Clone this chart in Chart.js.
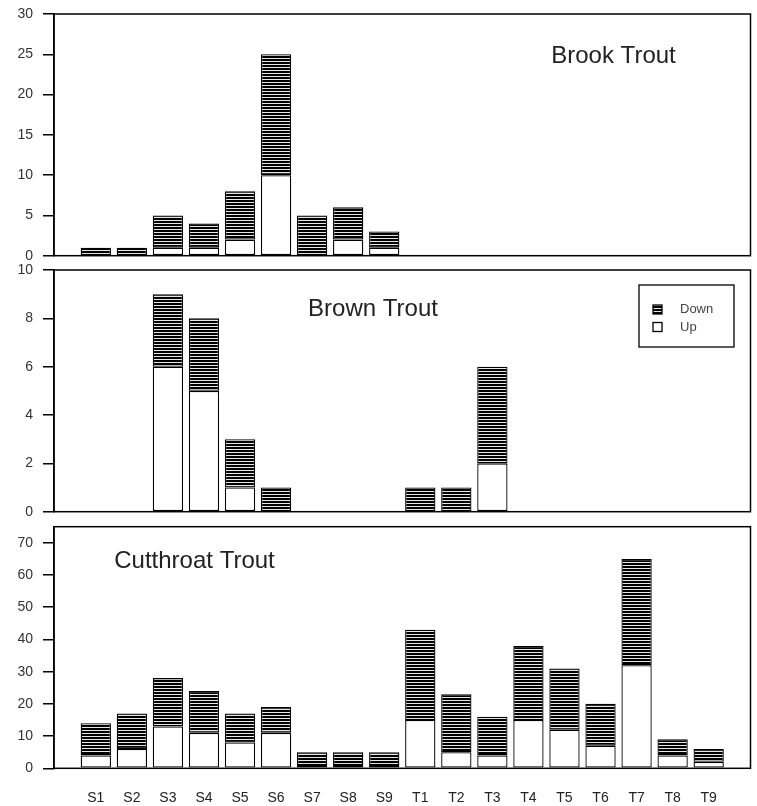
<!DOCTYPE html>
<html>
<head>
<meta charset="utf-8">
<script src="https://cdn.jsdelivr.net/npm/chart.js@4.4.0/dist/chart.umd.min.js"></script>
<style>
  body { margin: 0; background: #fff; width: 757px; height: 806px; position: relative; overflow: hidden; }
  .panel { position: absolute; left: 0; width: 757px; }
</style>
</head>
<body>
<div class="panel" style="top:-10px;height:290px"><canvas id="brook"></canvas></div>
<div class="panel" style="top:246px;height:290px"><canvas id="brown"></canvas></div>
<div class="panel" style="top:503px;height:303px"><canvas id="cutthroat"></canvas></div>
<script>
// sites along the x axis
const sites = ['S1','S2','S3','S4','S5','S6','S7','S8','S9','T1','T2','T3','T4','T5','T6','T7','T8','T9'];

// fish counts moving up / down, per site
const brookUp       = [0,0,1,1,2,10,0,2,1, 0,0,0,0,0,0,0,0,0];
const brookDown     = [1,1,4,3,6,15,5,4,2, 0,0,0,0,0,0,0,0,0];
const brownUp       = [0,0,6,5,1,0,0,0,0, 0,0,2,0,0,0,0,0,0];
const brownDown     = [0,0,3,3,2,1,0,0,0, 1,1,4,0,0,0,0,0,0];
const cutthroatUp   = [4,6,13,11,8,11,1,1,1, 15,5,4,15,12,7,32,4,2];
const cutthroatDown = [10,11,15,13,9,8,4,4,4, 28,18,12,23,19,13,33,5,4];

const FONT = '"Liberation Sans", Arial, sans-serif';

function stripes() {
  const c = document.createElement('canvas');
  c.width = 4; c.height = 3;
  const g = c.getContext('2d');
  g.fillStyle = '#e6e6e6';
  g.fillRect(0, 0, 4, 3);
  g.fillStyle = '#000';
  g.fillRect(0, 0, 4, 2);
  return g.createPattern(c, 'repeat');
}
const hatch = stripes();

function toPoints(arr) {
  return arr.map((v, i) => ({x: i, y: v}));
}

// frame, panel title and (optionally) legend; positions are relative to the chart area
const panelDecor = {
  id: 'panelDecor',
  afterDatasetsDraw(chart, args, opts) {
    const ctx = chart.ctx;
    const a = chart.chartArea;
    ctx.save();
    ctx.strokeStyle = '#000';
    ctx.lineWidth = 1.5;
    ctx.strokeRect(a.left, a.top, a.right - a.left, a.bottom - a.top);

    ctx.fillStyle = '#222';
    ctx.font = '24px ' + FONT;
    ctx.textAlign = 'center';
    ctx.textBaseline = 'middle';
    ctx.fillText(opts.title, opts.titleX, a.top + opts.titleDy);

    if (opts.legend) {
      const L = opts.legend;
      const ly = a.top + L.dy;
      ctx.lineWidth = 1.3;
      ctx.strokeRect(L.x, ly, L.w, L.h);
      const items = chart.data.datasets.slice().reverse();
      ctx.font = '13px ' + FONT;
      ctx.textAlign = 'left';
      items.forEach((ds, i) => {
        const sy = ly + 20 + i * 17.5;
        ctx.fillStyle = ds.backgroundColor;
        ctx.fillRect(L.x + 14, sy, 9, 9);
        ctx.strokeRect(L.x + 14, sy, 9, 9);
        ctx.fillStyle = '#444';
        ctx.fillText(ds.label, L.x + 41, sy + 4.5);
      });
    }
    ctx.restore();
  }
};

function makePanel(id, up, down, yMax, yStep, decor, showX, pad) {
  const xAxis = {
    type: 'linear',
    stacked: true,
    min: -1.16,
    max: 18.16,
    offset: false,
    display: showX,
    grid: {display: false, drawTicks: false},
    border: {display: false},
    ticks: {
      color: '#222',
      font: {size: 14, family: FONT},
      padding: 21,
      maxRotation: 0,
      autoSkip: false,
      callback: v => sites[v]
    },
    afterBuildTicks: s => { s.ticks = sites.map((_, i) => ({value: i})); }
  };
  if (showX) xAxis.afterFit = s => { s.height = 37.7; };

  new Chart(document.getElementById(id), {
    type: 'bar',
    data: {
      datasets: [
        {label: 'Up', data: toPoints(up), backgroundColor: '#fff', borderColor: '#000', borderWidth: 1.3, borderSkipped: false},
        {label: 'Down', data: toPoints(down), backgroundColor: hatch, borderColor: '#000', borderWidth: 1.3, borderSkipped: false}
      ]
    },
    options: {
      responsive: true,
      maintainAspectRatio: false,
      animation: false,
      layout: {padding: pad},
      categoryPercentage: 1,
      barPercentage: 0.84,
      scales: {
        x: xAxis,
        y: {
          stacked: true,
          min: 0,
          max: yMax,
          ticks: {stepSize: yStep, includeBounds: false, color: '#333', font: {size: 14, family: FONT}, padding: 10},
          grid: {drawOnChartArea: false, color: '#000', lineWidth: 1.5, tickLength: 11},
          border: {color: '#000', width: 1.5},
          afterFit: s => { s.width = 54; }
        }
      },
      plugins: {
        legend: {display: false},
        tooltip: {enabled: false},
        panelDecor: decor
      }
    },
    plugins: [panelDecor]
  });
}

makePanel('brook', brookUp, brookDown, 30, 5,
  {title: 'Brook Trout', titleX: 613.5, titleDy: 42.7},
  false, {top: 24, bottom: 24.3, left: 0, right: 6.5});

makePanel('brown', brownUp, brownDown, 10, 2,
  {title: 'Brown Trout', titleX: 373, titleDy: 39, legend: {x: 639, dy: 15, w: 95, h: 62}},
  false, {top: 24, bottom: 24.3, left: 0, right: 6.5});

makePanel('cutthroat', cutthroatUp, cutthroatDown, 75, 10,
  {title: 'Cutthroat Trout', titleX: 194.5, titleDy: 34.3},
  true, {top: 23.7, bottom: 0, left: 0, right: 6.5});
</script>
</body>
</html>
